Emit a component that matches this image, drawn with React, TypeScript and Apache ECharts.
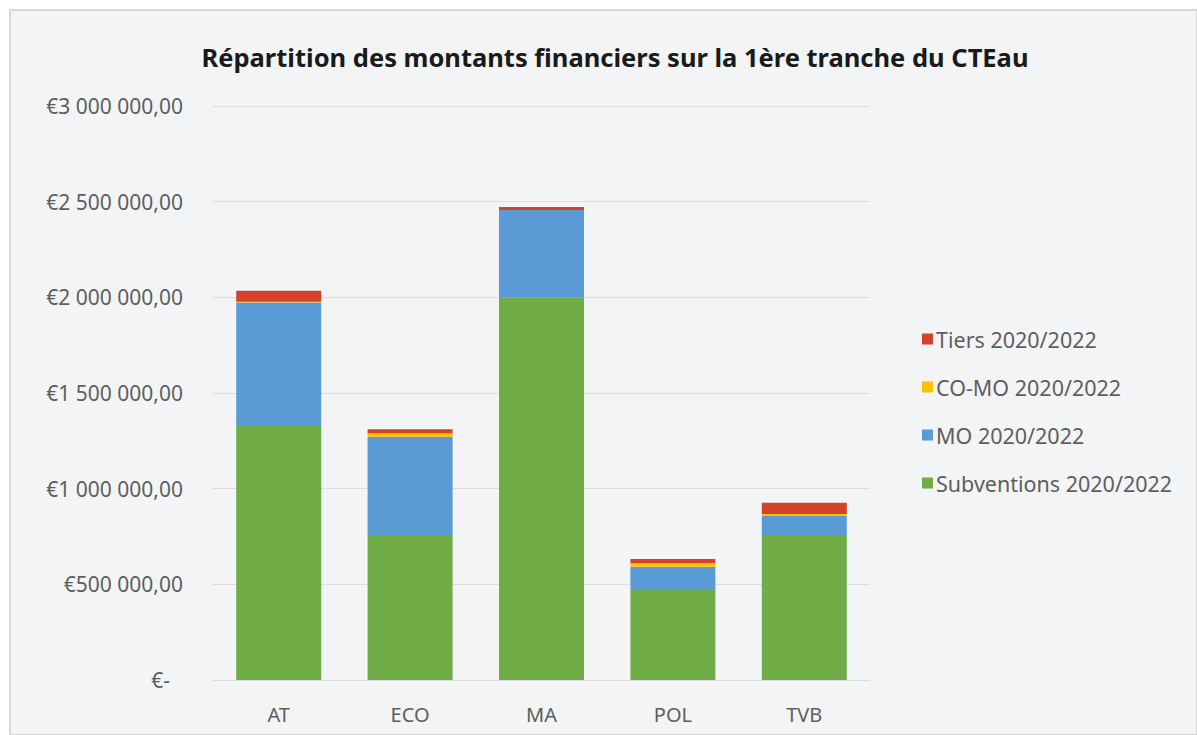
import React, { useEffect, useRef } from "react";
import * as echarts from "echarts";

const categories = ["AT", "ECO", "MA", "POL", "TVB"];
const subventions = [1333000, 752000, 2000000, 470000, 752000];
const mo = [640000, 519000, 456000, 122000, 105000];
const como = [4000, 17000, 0, 18000, 10000];
const tiers = [57000, 23000, 16000, 23000, 59000];
const yTicks = [0, 500000, 1000000, 1500000, 2000000, 2500000, 3000000];

const seriesNames = ["Subventions 2020/2022", "MO 2020/2022", "CO-MO 2020/2022", "Tiers 2020/2022"];
const colors = ["#70ad47", "#5b9bd5", "#ffc000", "#d3432a"];

function fmt(v: number): string {
  if (v === 0) return "{z|€-}";
  const s = Math.round(v).toString().replace(/\B(?=(\d{3})+(?!\d))/g, " ");
  return "€" + s + ",00";
}

export default function App() {
  const ref = useRef<HTMLDivElement>(null);
  useEffect(() => {
    if (!ref.current) return;
    const chart = echarts.init(ref.current, null, { renderer: "svg" });
    const font = "'Noto Sans', 'Open Sans', sans-serif";
    const data = [subventions, mo, como, tiers];
    chart.setOption({
      animation: false,
      backgroundColor: "#ffffff",
      graphic: [
        {
          type: "rect",
          z: -10,
          shape: { x: 10, y: 10, width: 1187, height: 725 },
          style: { fill: "#f3f4f5", stroke: "#d6d8da", lineWidth: 2 },
        },
      ],
      title: {
        text: "Répartition des montants financiers sur la 1ère tranche du CTEau",
        left: 610,
        textAlign: "center",
        top: 39,
        textStyle: { fontFamily: font, fontWeight: "bold", fontSize: 25.5, color: "#1a1a1a" },
      },
      legend: {
        orient: "vertical",
        left: 917,
        top: 323,
        itemWidth: 11,
        itemHeight: 11,
        itemGap: 26,
        icon: "rect",
        data: ["Tiers 2020/2022", "CO-MO 2020/2022", "MO 2020/2022", "Subventions 2020/2022"],
        textStyle: { fontFamily: font, fontSize: 21.5, color: "#5e5e5e", lineHeight: 22, padding: [0, 0, 0, -2] },
      },
      grid: { left: 213, right: 327, top: 106, bottom: 55 },
      xAxis: {
        type: "category",
        data: categories,
        axisTick: { show: false },
        axisLine: { show: true, lineStyle: { color: "#dadada" } },
        axisLabel: { margin: 24, fontFamily: font, fontSize: 20, color: "#5e5e5e" },
      },
      yAxis: {
        type: "value",
        min: yTicks[0],
        max: yTicks[yTicks.length - 1],
        interval: 500000,
        axisLine: { show: false },
        axisTick: { show: false },
        splitLine: { lineStyle: { color: "#dcdcdc" } },
        axisLabel: {
          margin: 30,
          fontFamily: font,
          fontSize: 21,
          color: "#5e5e5e",
          formatter: (v: number) => fmt(v),
          rich: { z: { fontFamily: font, fontSize: 21, color: "#5e5e5e", padding: [0, 13, 0, 0] } },
        },
      },
      series: seriesNames.map((name, i) => ({
        name,
        type: "bar",
        stack: "total",
        barWidth: 85,
        itemStyle: { color: colors[i] },
        data: data[i],
      })),
    });
    return () => chart.dispose();
  }, []);
  return <div ref={ref} style={{ position: "absolute", left: 0, top: 0, width: 1197, height: 735 }} />;
}
